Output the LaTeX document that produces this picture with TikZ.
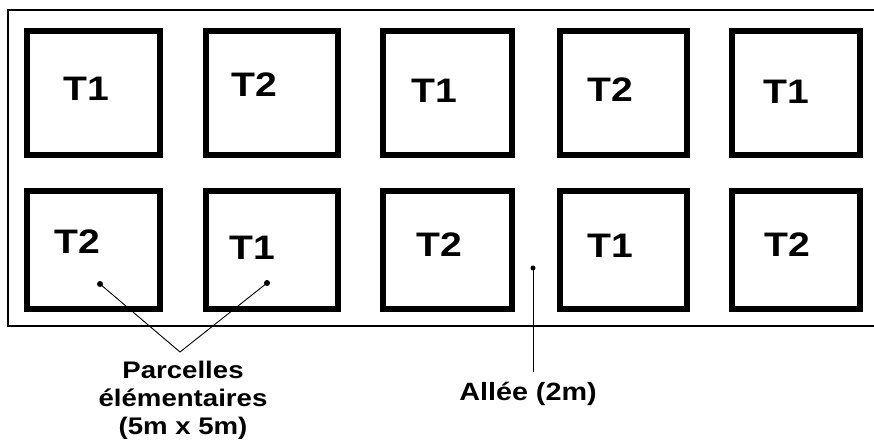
\documentclass[tikz,border=0pt]{standalone}
\usepackage{fontspec}
\setmainfont{Liberation Sans}[FakeStretch=1.15]
\begin{document}
\begin{tikzpicture}[x=1pt,y=-1pt,
  plotbox/.style n args={2}{draw=black,line width=6pt,inner sep=0pt,minimum width=#1pt,minimum height=#2pt},
  tlabel/.style={inner sep=0pt,font=\bfseries\fontsize{34}{34}\selectfont},
  dotnode/.style={circle,fill=black,inner sep=0pt,minimum size=6pt},
  leader/.style={draw=black,line width=0.9pt},
  caption/.style={inner sep=0pt,align=center,font=\bfseries\fontsize{24}{28}\selectfont}]
\useasboundingbox (0,0) rectangle (874,443);
\clip (0,0) rectangle (874,443);
\fill[white] (0,0) rectangle (874,443);
% field outline
\draw[line width=2pt] (8,10) rectangle (884,326);
% row 1
\node[plotbox={133}{124}] (s11) at (93.5,93) {};
\node[plotbox={132}{124}] (s12) at (272,93) {};
\node[plotbox={129}{124}] (s13) at (447.5,93) {};
\node[plotbox={127}{124}] (s14) at (623.5,93) {};
\node[plotbox={128}{124}] (s15) at (796,93) {};
% row 2
\node[plotbox={133}{118}] (s21) at (93.5,250) {};
\node[plotbox={132}{118}] (s22) at (272,250) {};
\node[plotbox={129}{118}] (s23) at (447.5,250) {};
\node[plotbox={127}{118}] (s24) at (623.5,250) {};
\node[plotbox={128}{118}] (s25) at (796,250) {};
% labels
\node[tlabel] (t11) at (86,88.5) {T1};
\node[tlabel] (t12) at (254,84.5) {T2};
\node[tlabel] (t13) at (434,91) {T1};
\node[tlabel] (t14) at (610,90) {T2};
\node[tlabel] (t15) at (786,92) {T1};
\node[tlabel] (t21) at (77,242) {T2};
\node[tlabel] (t22) at (252,248) {T1};
\node[tlabel] (t23) at (439,245) {T2};
\node[tlabel] (t24) at (610,246) {T1};
\node[tlabel] (t25) at (787,245) {T2};
% leaders
\node[dotnode] (d1) at (100,284) {};
\node[dotnode] (d2) at (267,283) {};
\node[dotnode,minimum size=5pt] (d3) at (533,268) {};
\coordinate (c1) at (180,352);
\coordinate (c2) at (533,372);
\draw[leader] (d1.center) -- (c1) -- (d2.center);
\draw[leader] (d3.center) -- (c2);
\node[caption,anchor=north] (cap1) at (183,361) {Parcelles\\élémentaires\\(5m x 5m)};
\node[caption,anchor=base,font=\bfseries\fontsize{25}{28}\selectfont] (cap2) at (528,400) {Allée (2m)};
\end{tikzpicture}
\end{document}
